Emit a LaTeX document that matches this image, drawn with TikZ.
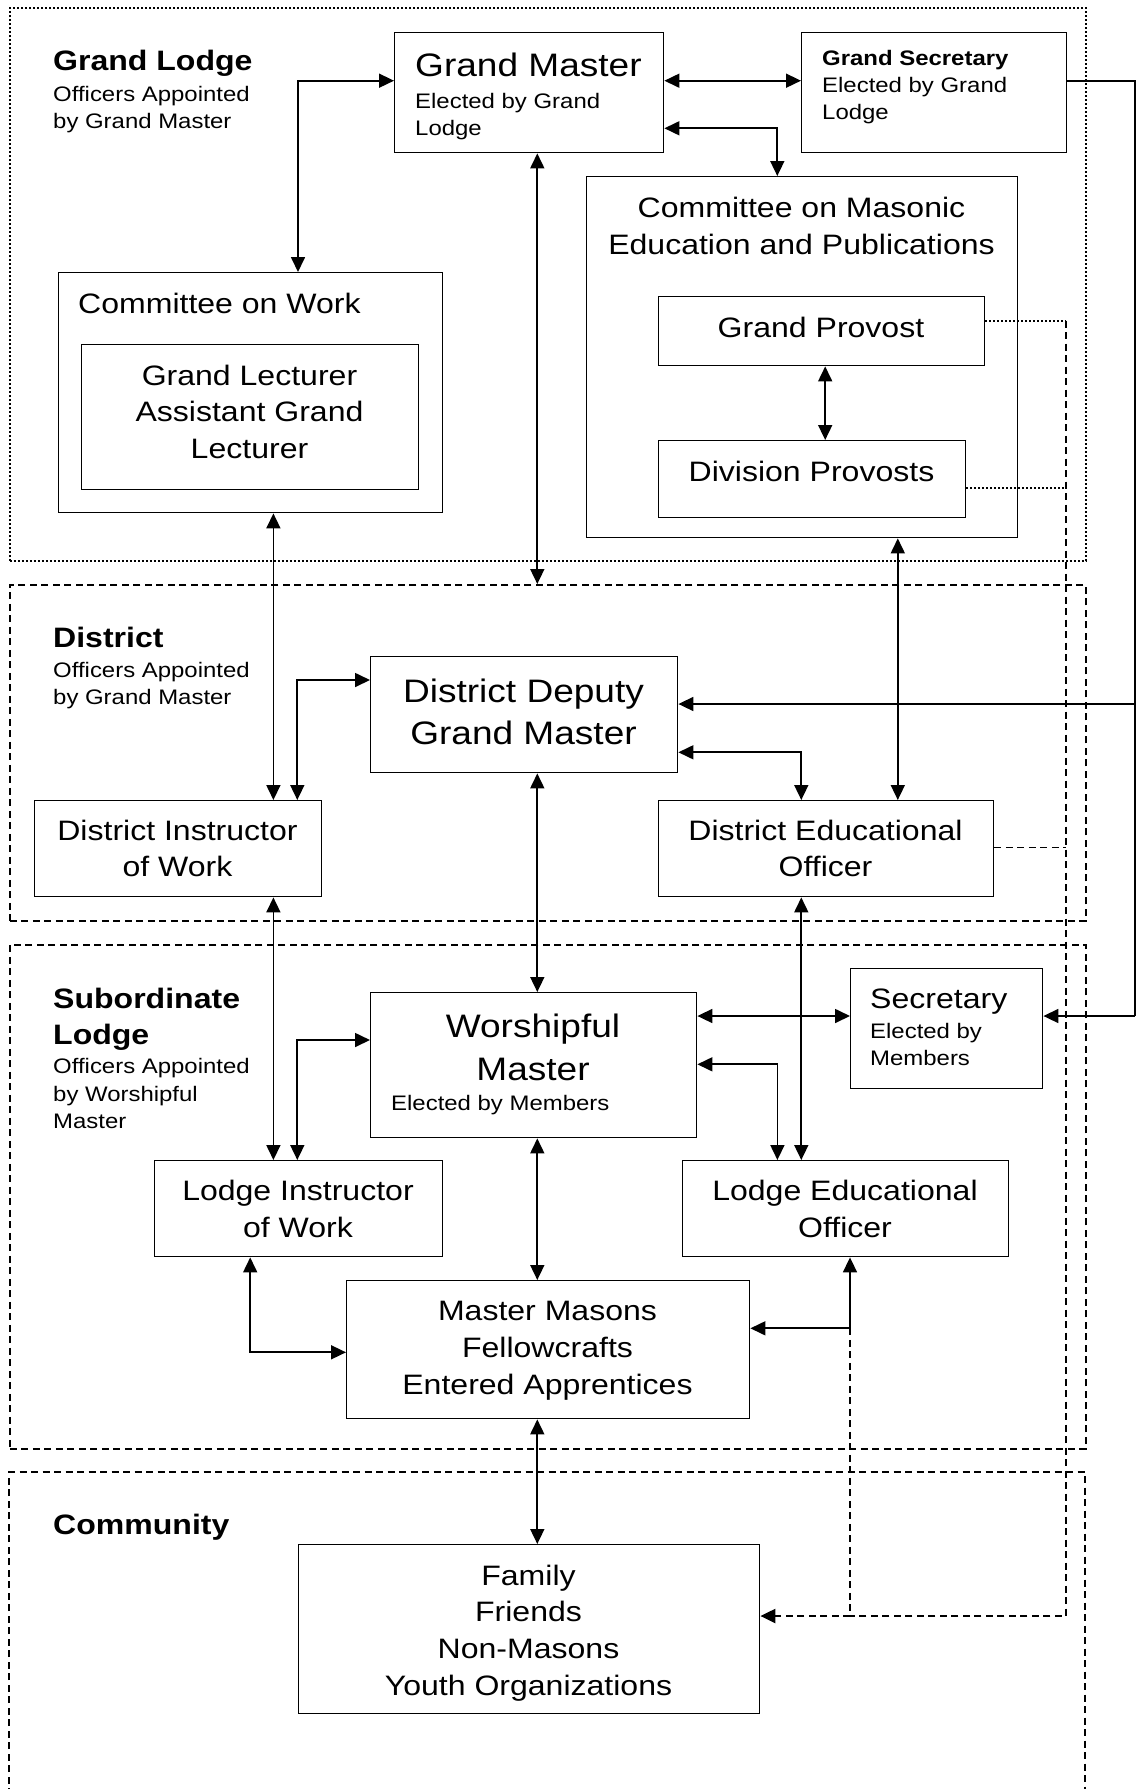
\documentclass[tikz,border=0pt]{standalone}
\usepackage{fontspec}
\setmainfont{Liberation Sans}[FakeStretch=1.14]
\usetikzlibrary{arrows.meta}

\begin{document}
\begin{tikzpicture}[x=1pt, y=-1pt,
    >={Triangle[length=15pt, width=14pt]},
    box/.style={draw, line width=1.4pt, inner sep=0pt, anchor=north west},
    tierbox/.style={draw, line width=1.5pt, dash pattern=on 7pt off 4.5pt, inner sep=0pt, anchor=north west},
    conn/.style={line width=1.7pt},
    dbl/.style={conn, <->},
    sgl/.style={conn, ->},
    dashline/.style={line width=1.5pt, dash pattern=on 7pt off 4.5pt},
    dotline/.style={line width=1.7pt, dash pattern=on 2pt off 2pt},
    txtbig/.style={font=\fontsize{32.5pt}{37pt}\selectfont, inner sep=0pt, anchor=base},
    txtmid/.style={font=\fontsize{28.1pt}{32pt}\selectfont, inner sep=0pt, anchor=base},
    txtsml/.style={font=\fontsize{21pt}{24pt}\selectfont, inner sep=0pt, anchor=base west},
    hdr/.style={font=\fontsize{28.1pt}{32pt}\selectfont\bfseries, inner sep=0pt, anchor=base west}]
    \useasboundingbox (0,0) rectangle (1137,1789);

    % Tiers
    \node[box, line width=1.7pt, dash pattern=on 2pt off 2pt, minimum width=1076pt, minimum height=553pt] (glframe) at (9,7) {};
    \node[tierbox, minimum width=1076pt, minimum height=336pt] (dframe) at (9,584) {};
    \node[tierbox, minimum width=1076pt, minimum height=504pt] (sframe) at (9,944) {};
    \draw[dashline] (9,1795) -- (9,1472) -- (1085,1472) -- (1085,1795);

    \node[hdr] (glhead) at (53,70) {Grand Lodge};
    \node[txtsml] (glsub1) at (53,101) {Officers Appointed};
    \node[txtsml] (glsub2) at (53,128) {by Grand Master};
    \node[hdr] (dhead) at (53,647) {District};
    \node[txtsml] (dsub1) at (53,677) {Officers Appointed};
    \node[txtsml] (dsub2) at (53,704) {by Grand Master};
    \node[hdr] (shead1) at (53,1008) {Subordinate};
    \node[hdr] (shead2) at (53,1044) {Lodge};
    \node[txtsml] (ssub1) at (53,1073.5) {Officers Appointed};
    \node[txtsml] (ssub2) at (53,1101) {by Worshipful};
    \node[txtsml] (ssub3) at (53,1128.5) {Master};
    \node[hdr] (chead) at (53,1534) {Community};

    % Grand Lodge
    \node[box, minimum width=269pt, minimum height=120pt] (gm) at (394,32) {};
    \node[txtbig, anchor=base west] (gmt1) at (415,76.5) {Grand Master};
    \node[txtsml] (gmt2) at (415,108) {Elected by Grand};
    \node[txtsml] (gmt3) at (415,135) {Lodge};

    \node[box, minimum width=265pt, minimum height=120pt] (gs) at (801,32) {};
    \node[txtsml, font=\fontsize{21pt}{24pt}\selectfont\bfseries] (gst1) at (822,65) {Grand Secretary};
    \node[txtsml] (gst2) at (822,92) {Elected by Grand};
    \node[txtsml] (gst3) at (822,119) {Lodge};

    \node[box, minimum width=384pt, minimum height=240pt] (cw) at (58,272) {};
    \node[txtmid, anchor=base west] (cwt) at (78,313) {Committee on Work};
    \node[box, minimum width=337pt, minimum height=145pt] (gl) at (81,344) {};
    \node[txtmid] (glt1) at (249.5,385) {Grand Lecturer};
    \node[txtmid] (glt2) at (249.5,421.5) {Assistant Grand};
    \node[txtmid] (glt3) at (249.5,458) {Lecturer};

    \node[box, minimum width=431pt, minimum height=361pt] (cm) at (586,176) {};
    \node[txtmid] (cmt1) at (801.5,217) {Committee on Masonic};
    \node[txtmid] (cmt2) at (801.5,254) {Education and Publications};
    \node[box, minimum width=326pt, minimum height=69pt] (gp) at (658,296) {};
    \node[txtmid] (gpt) at (821,337) {Grand Provost};
    \node[box, minimum width=307pt, minimum height=77pt] (dp) at (658,440) {};
    \node[txtmid] (dpt) at (811.5,481) {Division Provosts};

    % District
    \node[box, minimum width=307pt, minimum height=116pt] (ddgm) at (370,656) {};
    \node[txtbig] (ddgmt1) at (523.5,702.5) {District Deputy};
    \node[txtbig] (ddgmt2) at (523.5,744.5) {Grand Master};
    \node[box, minimum width=287pt, minimum height=96pt] (diw) at (34,800) {};
    \node[txtmid] (diwt1) at (177.5,840) {District Instructor};
    \node[txtmid] (diwt2) at (177.5,876.5) {of Work};
    \node[box, minimum width=335pt, minimum height=96pt] (deo) at (658,800) {};
    \node[txtmid] (deot1) at (825.5,840) {District Educational};
    \node[txtmid] (deot2) at (825.5,876.5) {Officer};

    % Subordinate Lodge
    \node[box, minimum width=326pt, minimum height=145pt] (wm) at (370,992) {};
    \node[txtbig] (wmt1) at (533,1037.5) {Worshipful};
    \node[txtbig] (wmt2) at (533,1080) {Master};
    \node[txtsml] (wmt3) at (391,1110.5) {Elected by Members};
    \node[box, minimum width=192pt, minimum height=120pt] (sec) at (850,968) {};
    \node[txtmid, anchor=base west] (sect1) at (870,1008.5) {Secretary};
    \node[txtsml] (sect2) at (870,1038.5) {Elected by};
    \node[txtsml] (sect3) at (870,1065.5) {Members};
    \node[box, minimum width=288pt, minimum height=96pt] (liw) at (154,1160) {};
    \node[txtmid] (liwt1) at (298,1200.5) {Lodge Instructor};
    \node[txtmid] (liwt2) at (298,1237) {of Work};
    \node[box, minimum width=326pt, minimum height=96pt] (leo) at (682,1160) {};
    \node[txtmid] (leot1) at (845,1200.5) {Lodge Educational};
    \node[txtmid] (leot2) at (845,1237) {Officer};
    \node[box, minimum width=403pt, minimum height=138pt] (mm) at (346,1280) {};
    \node[txtmid] (mmt1) at (547.5,1320.5) {Master Masons};
    \node[txtmid] (mmt2) at (547.5,1357) {Fellowcrafts};
    \node[txtmid] (mmt3) at (547.5,1394) {Entered Apprentices};

    % Community
    \node[box, minimum width=461pt, minimum height=169pt] (fam) at (298,1544) {};
    \node[txtmid] (famt1) at (528.5,1585) {Family};
    \node[txtmid] (famt2) at (528.5,1621.8) {Friends};
    \node[txtmid] (famt3) at (528.5,1658.6) {Non-Masons};
    \node[txtmid] (famt4) at (528.5,1695.4) {Youth Organizations};

    % Rails and joints
    \coordinate (railtop) at (1135,80.7);
    \coordinate (raildd) at (1135,704);
    \coordinate (railsec) at (1135,1016);
    \coordinate (dropgp) at (1066,320.7);
    \coordinate (dropdp) at (1066,488.3);
    \coordinate (dropdeo) at (1066,847.3);
    \coordinate (dropend) at (1066,1616);
    \coordinate (leojoin) at (850,1328.3);
    \coordinate (famjoin) at (850,1616);

    % Grand Lodge links
    \draw[dbl] (gm.west |- 0,80.7) -| (cw.north -| 298,0);
    \draw[dbl] (gm.east |- 0,80.7) -- (gs.west |- 0,80.7);
    \draw[dbl] (gm.east |- 0,128.3) -| (cm.north -| 777.3,0);
    \draw[dbl] (gm.south -| 537.3,0) -- (dframe.north -| 537.3,0);
    \draw[dbl] (gp.south -| 825.2,0) -- (dp.north -| 825.2,0);
    \draw[dbl] (cw.south -| 273.4,0) -- (diw.north -| 273.4,0);
    \draw[dbl] (cm.south -| 897.8,0) -- (deo.north -| 897.8,0);

    % Secretary rail
    \draw[conn] (gs.east |- railtop) -- (railtop) -- (railsec);
    \draw[sgl] (raildd) -- (ddgm.east |- raildd);
    \draw[sgl] (railsec) -- (sec.east |- railsec);

    % District links
    \draw[dbl] (ddgm.west |- 0,680) -| (diw.north -| 297.3,0);
    \draw[dbl] (ddgm.east |- 0,752.3) -| (deo.north -| 801.3,0);
    \draw[dbl] (ddgm.south -| 537.3,0) -- (wm.north -| 537.3,0);
    \draw[dbl] (diw.south -| 273.4,0) -- (liw.north -| 273.4,0);
    \draw[dbl] (deo.south -| 801.3,0) -- (leo.north -| 801.3,0);

    % Subordinate Lodge links
    \draw[dbl] (wm.west |- 0,1040) -| (liw.north -| 297.3,0);
    \draw[dbl] (wm.east |- 0,1016) -- (sec.west |- 0,1016);
    \draw[dbl] (wm.east |- 0,1064.3) -| (leo.north -| 777.4,0);
    \draw[dbl] (wm.south -| 537.3,0) -- (mm.north -| 537.3,0);
    \draw[dbl] (liw.south -| 250.2,0) |- (mm.west |- 0,1352.3);
    \draw[dbl] (leo.south -| 850,0) |- (mm.east |- leojoin);
    \draw[dbl] (mm.south -| 537.3,0) -- (fam.north -| 537.3,0);

    % Education feed to the community
    \draw[dotline] (gp.east |- dropgp) -- (dropgp);
    \draw[dotline] (dp.east |- dropdp) -- (dropdp);
    \draw[dashline] (deo.east |- dropdeo) -- (dropdeo);
    \draw[dashline] (dropgp) -- (dropend) -- (famjoin);
    \draw[dashline] (leojoin) -- (famjoin);
    \draw[dashline, line width=2.2pt, ->] (famjoin) -- (fam.east |- famjoin);
\end{tikzpicture}
\end{document}
